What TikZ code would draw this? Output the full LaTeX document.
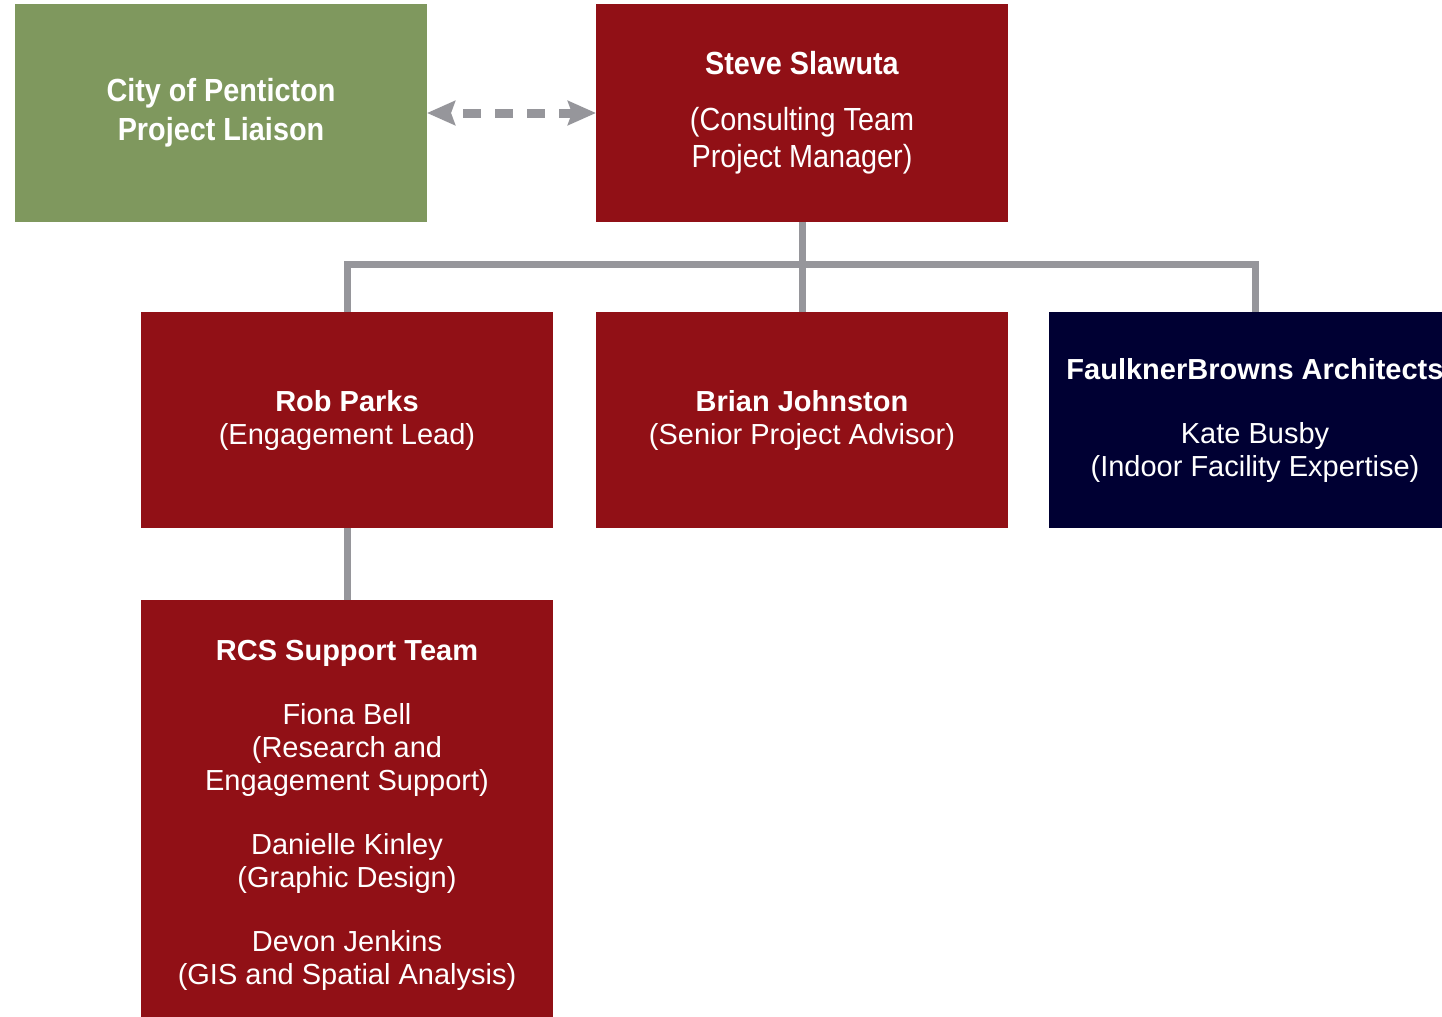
\documentclass[tikz,border=0pt]{standalone}
\usepackage{fontspec}
\setmainfont{Liberation Sans}
\newfontfamily\narrowfont[FakeStretch=0.9]{Liberation Sans}
\usepackage{xcolor}
\usetikzlibrary{arrows.meta}

\definecolor{teamred}{RGB}{145,16,22}
\definecolor{cityGreen}{RGB}{127,152,94}
\definecolor{archNavy}{RGB}{0,0,51}
\definecolor{linkGray}{RGB}{150,150,155}

\tikzset{
	box/.style={fill=teamred, text=white, inner sep=0pt, outer sep=0pt, align=center,
		minimum width=206pt, minimum height=108pt, font=\fontsize{14.5}{16.5}\selectfont},
	topbox/.style={box, minimum height=109pt, font=\narrowfont\fontsize{16}{18.5}\selectfont},
	link/.style={draw=linkGray, line width=3.5pt}
}

\begin{document}
\begin{tikzpicture}[x=0.5pt, y=-0.5pt]
			\def\gapS{9.5pt};
			\def\gapL{15.5pt};

			\path[use as bounding box, fill=white] (0,0) rectangle (1442,1017);

			\begin{scope}
				\node[topbox, fill=cityGreen, font=\narrowfont\bfseries\fontsize{16}{19.5}\selectfont] (city) at (221,113)
					{City of Penticton\\Project Liaison};
				\node[topbox] (steve) at (802,113)
					{\textbf{Steve Slawuta}\\[\gapS](Consulting Team\\Project Manager)};
			\end{scope}

			\begin{scope}
				\node[box] (rob) at (347,420) {\textbf{Rob Parks}\\(Engagement Lead)};
				\node[box] (brian) at (802,420) {\textbf{Brian Johnston}\\(Senior Project Advisor)};
				\node[box, fill=archNavy] (faulkner) at (1255,420)
					{\textbf{FaulknerBrowns Architects}\\[\gapL]Kate Busby\\(Indoor Facility Expertise)};
				\node[box, minimum height=215pt] (rcs) at (347,815)
					{\textbf{RCS Support Team}\\[\gapL]Fiona Bell\\(Research and\\Engagement Support)\\[\gapL]%
					Danielle Kinley\\(Graphic Design)\\[\gapL]Devon Jenkins\\(GIS and Spatial Analysis)};
			\end{scope}

			\begin{scope}
				\coordinate (bus) at (802,264);
				\draw[link] (steve.south) -- (brian.north);
				\draw[link] (rob.north) |- (faulkner.north |- bus) -- (faulkner.north);
				\draw[link] (rob.south) -- (rcs.north);
			\end{scope}

			\draw[draw=linkGray, line width=4.5pt, dash pattern=on 9pt off 7pt, dash phase=9pt,
				{Stealth[length=14pt, width=12pt, inset=2pt]}-{Stealth[length=14pt, width=12pt, inset=2pt]}]
				(city.east) -- (steve.west);
		\end{tikzpicture}
\end{document}
